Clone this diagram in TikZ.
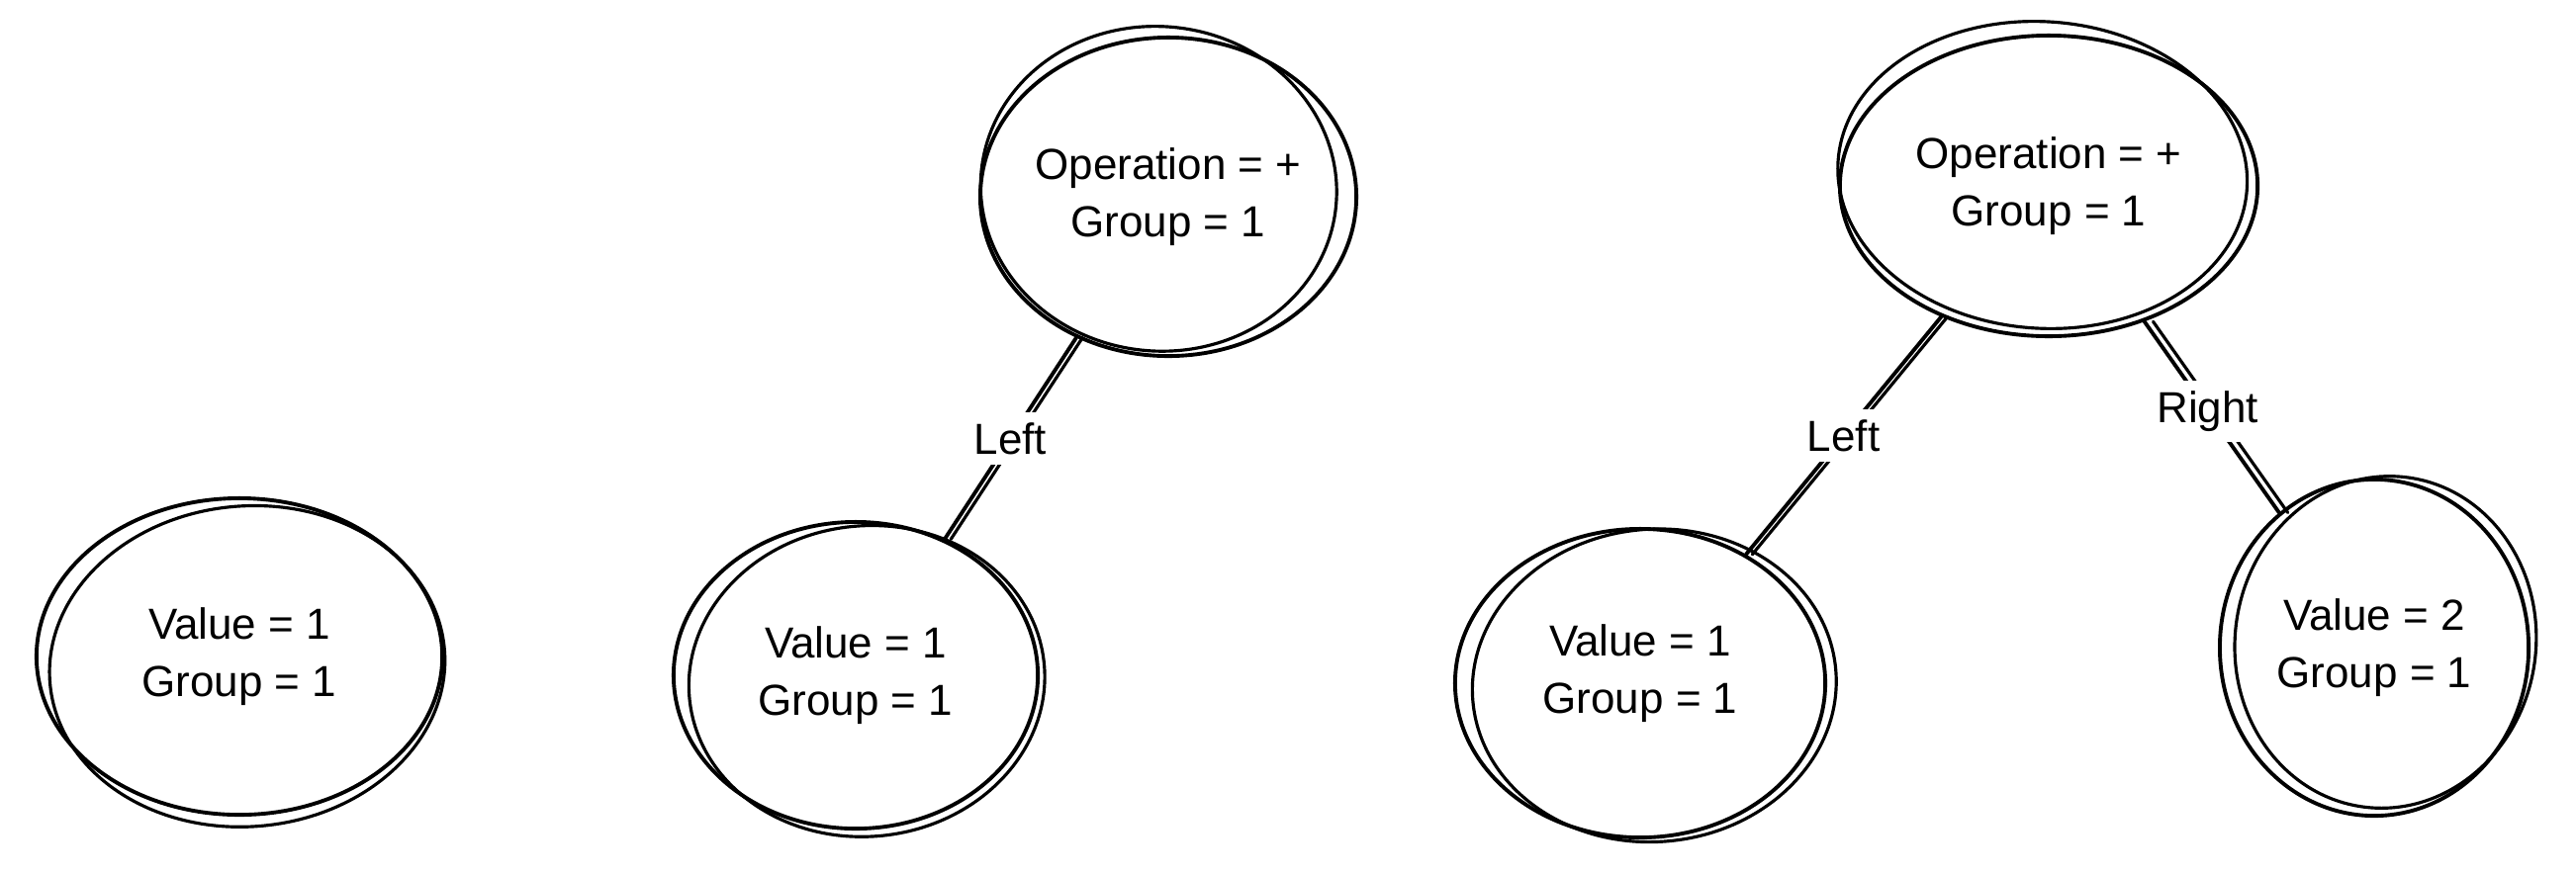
\documentclass[tikz,border=0pt]{standalone}
\usepackage{fontspec}
\setmainfont{Liberation Sans}
\usetikzlibrary{shapes.geometric}
\begin{document}
\begin{tikzpicture}[x=0.01cm,y=-0.01cm, line width=1.1pt, line cap=round, line join=round,
  tnode/.style={ellipse, draw, inner sep=0pt, align=center, font=\fontsize{12.5}{16.5}\selectfont},
  lbl/.style={fill=white, inner sep=3pt, font=\fontsize{12.5}{15}\selectfont},
  sketch/.style={line width=0.9pt}]
\useasboundingbox[fill=white] (0,0) rectangle (2604,884);
% nodes
\node[tnode, minimum width=4.10cm, minimum height=3.20cm] (a) at (242,664) {Value = 1\\Group = 1};
\node[tnode, minimum width=3.72cm, minimum height=3.22cm] (b) at (1181,199) {Operation = +\\Group = 1};
\node[tnode, minimum width=3.68cm, minimum height=3.10cm] (c) at (865,683) {Value = 1\\Group = 1};
\node[tnode, minimum width=4.22cm, minimum height=3.04cm] (d) at (2071,188) {Operation = +\\Group = 1};
\node[tnode, minimum width=3.74cm, minimum height=3.12cm] (e) at (1658,691) {\raisebox{0.1cm}[\height][\depth]{\begin{tabular}{@{}c@{}}Value = 1\\Group = 1\end{tabular}}};
\node[tnode, minimum width=3.12cm, minimum height=3.40cm] (f) at (2400,655) {Value = 2\\Group = 1};
% second hand-drawn strokes
\draw[sketch, rotate around={5:(a.center)}] ([xshift=2pt,yshift=-3pt]a.center) ellipse [x radius=2.00cm, y radius=1.62cm];
\draw[sketch, rotate around={-6:(b.center)}] ([xshift=-3pt,yshift=2pt]b.center) ellipse [x radius=1.80cm, y radius=1.64cm];
\draw[sketch, rotate around={6:(c.center)}] ([xshift=3pt,yshift=-2pt]c.center) ellipse [x radius=1.80cm, y radius=1.57cm];
\draw[sketch, rotate around={-4:(d.center)}] ([xshift=-2pt,yshift=3pt]d.center) ellipse [x radius=2.07cm, y radius=1.55cm];
\draw[sketch, rotate around={5:(e.center)}] ([xshift=4pt,yshift=-1pt]e.center) ellipse [x radius=1.84cm, y radius=1.58cm];
\draw[sketch, rotate around={-8:(f.center)}] ([xshift=3pt,yshift=2pt]f.center) ellipse [x radius=1.52cm, y radius=1.68cm];
% connectors
\draw (b) -- (c) node[lbl, midway] (l1) {Left};
\draw[sketch, transform canvas={xshift=1.8pt}] (b) -- (c);
\draw (d) -- (e) node[lbl, midway] (l2) {Left};
\draw[sketch, transform canvas={xshift=1.8pt}] (d) -- (e);
\draw (d) -- (f) node[lbl, pos=0.47] (l3) {Right};
\draw[sketch, transform canvas={xshift=2.5pt}] (d) -- (f);
% redraw labels on top
\node[lbl] at (l1) {Left};
\node[lbl] at (l2) {Left};
\node[lbl] at (l3) {Right};
\end{tikzpicture}
\end{document}
